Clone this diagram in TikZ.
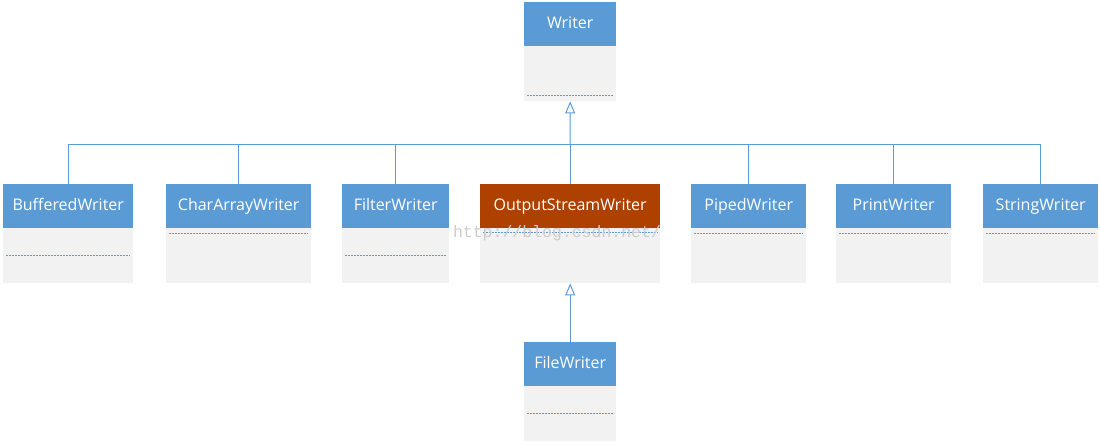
\documentclass[tikz,border=0pt]{standalone}
\usepackage{fontspec}
\setmainfont{Open Sans}
\newfontfamily\wmfont{Liberation Mono}
\usetikzlibrary{arrows.meta,calc}
\definecolor{hdr}{HTML}{5B9BD5}
\definecolor{hdrred}{HTML}{AE4100}
\definecolor{bodyc}{HTML}{F2F2F2}
\definecolor{lnc}{HTML}{5B9BD5}
\tikzset{
  hdrbox/.style={fill=hdr, text=white, inner sep=0pt, anchor=north west,
    font=\fontsize{16}{18}\selectfont, text height=11.5pt, text depth=3.5pt},
  bodybox/.style={fill=bodyc, inner sep=0pt, anchor=north west},
  dotline/.style={lnc, line width=1pt, dash pattern=on 2pt off 1pt},
  conn/.style={lnc, line width=1pt},
  inh/.style={conn, -{Triangle[open, width=10pt, length=12pt]}}
}
\newcommand{\umlclass}[7]{% name, x, width, ytop, dot offset from body top, label, header colour
  \node[hdrbox, fill=#7, minimum width=#3pt, minimum height=44pt] (#1) at (#2,#4) {#6};
  \node[bodybox, minimum width=#3pt, minimum height=55pt] (#1b) at (#2,#4+44) {};
  \draw[dotline] ($(#1b.north west)+(3,#5)$) -- ($(#1b.north east)+(-3,#5)$);
}
\begin{document}
\begin{tikzpicture}[x=1pt, y=-1pt]
\useasboundingbox (0,0) rectangle (1100,443);
\umlclass{wr}{524}{92}{2}{50}{Writer}{hdr}
\umlclass{bw}{3}{130}{184}{28}{BufferedWriter}{hdr}
\umlclass{ca}{166}{145}{184}{6}{CharArrayWriter}{hdr}
\umlclass{fi}{342}{107}{184}{28}{FilterWriter}{hdr}
\umlclass{os}{480}{180}{184}{5}{OutputStreamWriter}{hdrred}
\umlclass{pi}{691}{115}{184}{6}{PipedWriter}{hdr}
\umlclass{pr}{836}{115}{184}{6}{PrintWriter}{hdr}
\umlclass{st}{983}{115}{184}{6}{StringWriter}{hdr}
\umlclass{fw}{524}{92}{342}{27}{FileWriter}{hdr}
\coordinate (bus) at (570,145);
\foreach \n in {bw,ca,fi,os,pi,pr,st}{
  \draw[conn] (\n.north) |- (bus);
}
\draw[inh] (bus) -- (wrb.south);
\draw[inh] (fw.north) -- (osb.south);
\node[font=\wmfont\fontsize{16.5}{18}\selectfont, text=black!20, inner sep=0pt] (wm) at (557,233) {http://blog.csdn.net/};
\end{tikzpicture}
\end{document}
